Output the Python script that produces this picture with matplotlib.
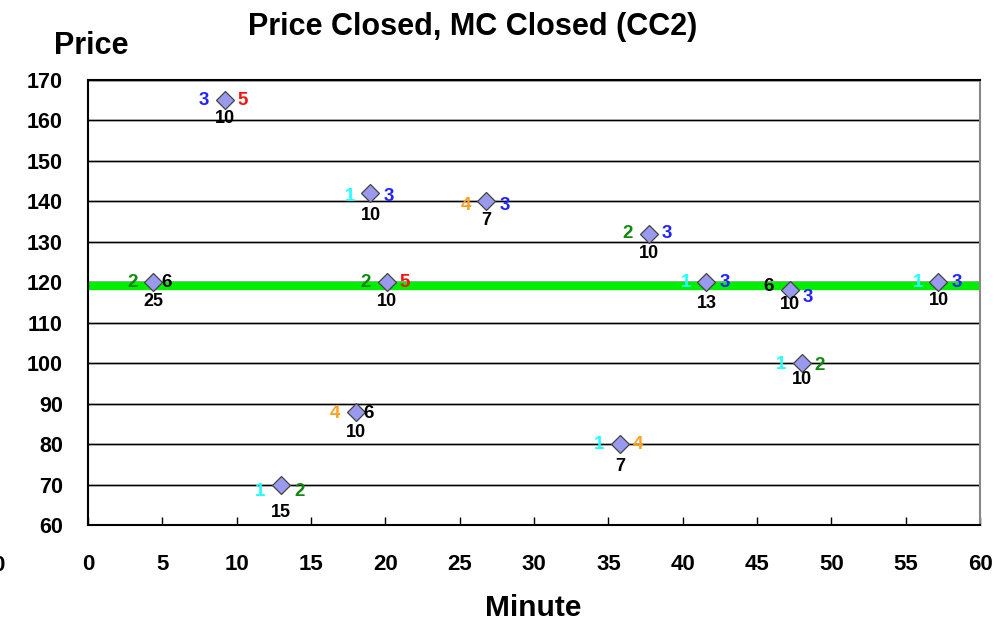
import matplotlib.pyplot as plt
import numpy as np

# data
minutes = [9.2, 19.0, 26.8, 37.7, 4.4, 20.1, 41.6, 47.2, 57.2, 48.0, 18.0, 35.8, 13.0]
prices = [165, 142, 140, 132, 120, 120, 120, 118, 120, 100, 88, 80, 70]
left_codes = [3, 1, 4, 2, 2, 2, 1, 6, 1, 1, 4, 1, 1]
right_codes = [5, 3, 3, 3, 6, 5, 3, 3, 3, 2, 6, 4, 2]
counts = [10, 10, 7, 10, 25, 10, 13, 10, 10, 10, 10, 7, 15]
mc_level = 119

code_colors = {1: '#22FFFF', 2: '#118811', 3: '#2222FF', 4: '#FFA020', 5: '#FF1111', 6: '#000000'}

# label offsets in points (layout only)
left_dy = [0, -2, -3, 0, 0, 0, 0, 3, 0, -1, -1, 0, -5]
right_dy = [0, -2, -3, 0, 0, 0, 0, -5, 0, -2, -1, 0, -5]
below_dy = [-13, -16, -14, -14, -14, -14, -15, -10, -13, -12, -15, -16, -20]

plt.rcParams['font.family'] = ['Liberation Sans', 'DejaVu Sans']
plt.rcParams['font.weight'] = 'bold'

fig = plt.figure(figsize=(9.95, 6.25), dpi=100)
ax = fig.add_axes([0.0884, 0.16, 0.8966, 0.712])

ax.set_xlim(0, 60)
ax.set_ylim(60, 170)
ax.set_xticks(np.arange(0, 61, 5))
ax.set_yticks(np.arange(60, 171, 10))

for v in np.arange(70, 171, 10):
    ax.axhline(v, color='#aaaaaa', lw=2.0, zorder=1)
    ax.axhline(v, color='black', lw=0.8, zorder=1.1)

ax.axhline(mc_level, color='#00EE00', lw=6, zorder=2)

ax.plot(minutes, prices, linestyle='none', marker='D', markersize=9.5,
        markerfacecolor='#9999EE', markeredgecolor='#444444', markeredgewidth=0.9, zorder=5)

for i in range(len(minutes)):
    x, y = minutes[i], prices[i]
    ax.annotate(str(left_codes[i]), (x, y), xytext=(-15, left_dy[i]), textcoords='offset points',
                ha='center', va='center', fontsize=13.5, fontweight='bold',
                color=code_colors[left_codes[i]], zorder=6)
    rdx = 9.5 if right_codes[i] == 6 else 13
    ax.annotate(str(right_codes[i]), (x, y), xytext=(rdx, right_dy[i]), textcoords='offset points',
                ha='center', va='center', fontsize=13.5, fontweight='bold',
                color=code_colors[right_codes[i]], zorder=6)
    ax.annotate(str(counts[i]), (x, y), xytext=(0, below_dy[i]), textcoords='offset points',
                ha='center', va='center', fontsize=13, fontweight='bold', color='black', zorder=6)

ax.tick_params(axis='x', direction='in', length=6, width=1, pad=21, labelsize=16)
ax.tick_params(axis='y', length=0, pad=18, labelsize=15.5)
for lab in ax.get_xticklabels() + ax.get_yticklabels():
    lab.set_fontweight('bold')

ax.spines['left'].set_linewidth(1.5)
ax.spines['bottom'].set_linewidth(1.5)
ax.spines['top'].set_linewidth(1.5)
ax.spines['right'].set_color('#888888')
ax.spines['right'].set_linewidth(1.5)

fig.text(0.475, 0.957, 'Price Closed, MC Closed (CC2)', ha='center', va='center',
         fontsize=22, fontweight='bold')
fig.text(0.0915, 0.927, 'Price', ha='center', va='center', fontsize=22, fontweight='bold')
fig.text(0.536, 0.027, 'Minute', ha='center', va='center', fontsize=21.5, fontweight='bold')
fig.text(-0.002, 0.095, '0', ha='center', va='center', fontsize=16, fontweight='bold')

fig.savefig('out.png', dpi=100)
